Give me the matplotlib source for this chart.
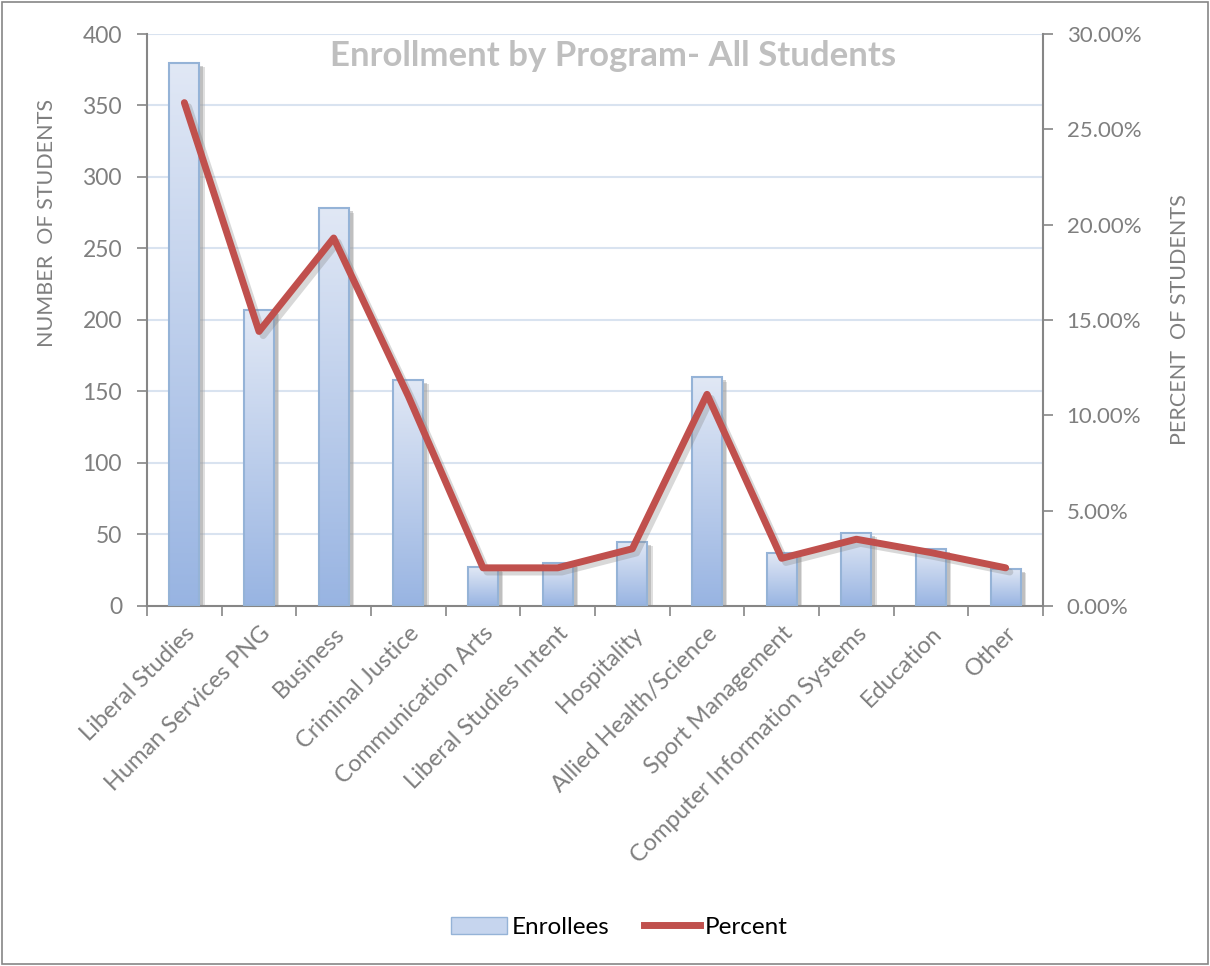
import numpy as np
import matplotlib
matplotlib.use("Agg")
import matplotlib.pyplot as plt
import matplotlib.patheffects as pe
import matplotlib.transforms as mtransforms
from matplotlib.patches import Rectangle
from matplotlib.lines import Line2D
from matplotlib.ticker import FuncFormatter, MultipleLocator

plt.rcParams['font.family'] = ['Lato', 'DejaVu Sans']

### Data
programs = ['Liberal Studies', 'Human Services PNG', 'Business', 'Criminal Justice',
            'Communication Arts', 'Liberal Studies Intent', 'Hospitality',
            'Allied Health/Science', 'Sport Management', 'Computer Information Systems',
            'Education', 'Other']
enrollees = [380, 207, 278, 158, 27, 30, 45, 160, 37, 51, 40, 26]
percent = [26.4, 14.4, 19.3, 11.0, 2.0, 2.0, 3.0, 11.1, 2.5, 3.5, 2.8, 2.0]

grey = '#868686'
txt = '#7f7f7f'

fig = plt.figure(figsize=(12.1, 9.66), dpi=100)
fig.patches.append(Rectangle((0.002, 0.002), 0.996, 0.996, transform=fig.transFigure,
                             fill=False, edgecolor=grey, linewidth=1.2))
ax = fig.add_axes([0.1215, 0.3727, 0.7405, 0.5921])
ax2 = ax.twinx()

x = np.arange(len(programs))

# gridlines
for v in range(50, 401, 50):
    ax.axhline(v, color='#d9e3f0', linewidth=1.5, zorder=0)

### bars: shadow, gradient fill, edge
shadow_tr = mtransforms.offset_copy(ax.transData, fig=fig, x=4, y=-3, units='dots')
grad = np.linspace(0, 1, 256).reshape(-1, 1)
cmap = matplotlib.colors.LinearSegmentedColormap.from_list('g', ['#98b4e2', '#e1e8f5'])
bars = ax.bar(x, enrollees, width=0.4, color='none', edgecolor='#95b3d7', linewidth=1.5, zorder=3)
for b in bars:
    bx, bw, bh = b.get_x(), b.get_width(), b.get_height()
    sh = Rectangle((bx, 0), bw, bh, transform=shadow_tr, facecolor='#9a9a9a', alpha=0.45,
                   edgecolor='none', zorder=2,
                   path_effects=[pe.SimplePatchShadow(offset=(1, -1), shadow_rgbFace='#b0b0b0', alpha=0.4),
                                 pe.Normal()])
    ax.add_patch(sh)
    im = ax.imshow(grad, cmap=cmap, extent=[bx, bx + bw, 0, bh], origin='lower',
                   aspect='auto', zorder=2.5)
    im.set_clip_path(Rectangle((bx, 0), bw, bh, transform=ax.transData))
ax.set_xlim(-0.5, len(programs) - 0.5)
ax.set_ylim(0, 400)
ax2.set_ylim(0, 30)

# percent line
ax2.plot(x, percent, color='#c0504d', linewidth=5, solid_capstyle='round', zorder=5,
         path_effects=[pe.SimpleLineShadow(offset=(3, -3), shadow_color='#808080', alpha=0.3),
                       pe.Normal()])

# axes styling
for a in (ax, ax2):
    for s in a.spines.values():
        s.set_visible(False)
for a, side in ((ax, 'left'), (ax, 'bottom'), (ax2, 'right')):
    a.spines[side].set_visible(True)
    a.spines[side].set_color(grey)
    a.spines[side].set_linewidth(1.5)

ax.yaxis.set_major_locator(MultipleLocator(50))
ax.tick_params(axis='y', colors=grey, labelcolor=txt, labelsize=16.5, length=7, width=1.2, pad=11)
ax2.yaxis.set_major_locator(MultipleLocator(5))
ax2.yaxis.set_major_formatter(FuncFormatter(lambda v, p: f'{v:.2f}%'))
ax2.tick_params(axis='y', colors=grey, labelcolor=txt, labelsize=16, length=7, width=1.2, pad=10)

ax.set_xticks(np.arange(-0.5, len(programs), 1.0))
ax.set_xticklabels([])
ax.tick_params(axis='x', colors=grey, length=7, width=1.2)
ax.set_xticks(x, minor=True)
ax.set_xticklabels(programs, minor=True, rotation=45, ha='right', rotation_mode='anchor',
                   fontsize=17, color=txt)
ax.tick_params(axis='x', which='minor', length=0, pad=12)

ax.set_ylabel('NUMBER  OF STUDENTS', fontsize=15.5, color=txt)
ax.yaxis.set_label_coords(-0.1, 0.67)
ax2.set_ylabel('PERCENT  OF STUDENTS', fontsize=15.5, color=txt, rotation=90)
ax2.yaxis.set_label_coords(1.142, 0.5)

ax.text(0.52, 0.99, 'Enrollment by Program- All Students', transform=ax.transAxes,
        ha='center', va='top', fontsize=25, fontweight='bold', color='#bfbfbf', zorder=10)

# legend
handles = [Rectangle((0, 0), 1, 1, facecolor='#c6d5ee', edgecolor='#95b3d7'),
           Line2D([0], [0], color='#c0504d', linewidth=5)]
fig.legend(handles, ['Enrollees', 'Percent'], loc='center', bbox_to_anchor=(0.512, 0.04),
           ncol=2, frameon=False, fontsize=17.5, handlelength=2.3, handletextpad=0.2,
           columnspacing=1.4)

fig.savefig('out.png', dpi=100)
